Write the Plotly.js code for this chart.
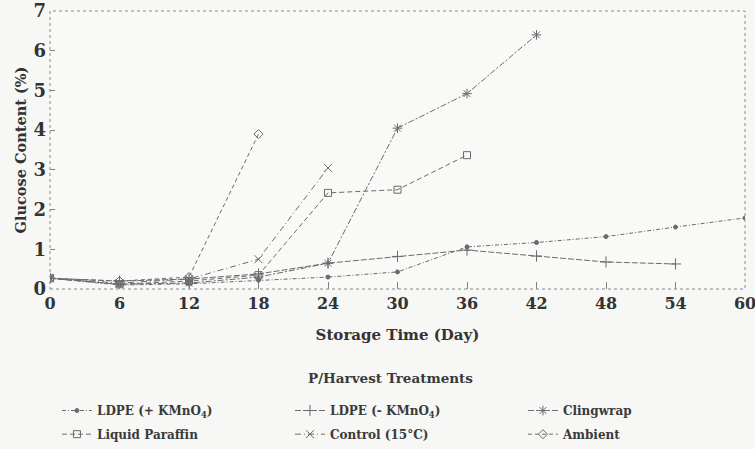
<!DOCTYPE html>
<html>
<head>
<meta charset="utf-8">
<script src="https://cdn.plot.ly/plotly-3.0.1.min.js"></script>
<style>
  html, body { margin: 0; padding: 0; background: #f7f7f5; }
  #chart { width: 755px; height: 449px; }
</style>
</head>
<body>
<div id="chart"></div>
<script>
// Storage days sampled (every 6 days)
const storageDays = [0, 6, 12, 18, 24, 30, 36, 42, 48, 54, 60];
const xTickLabels = ['0', '6', '12', '18', '24', '30', '36', '42', '48', '54', '60'];
const yTickValues = [0, 1, 2, 3, 4, 5, 6, 7];

// Glucose content (%) per post-harvest treatment
const ldpeWithKMnO4    = [0.27, 0.10, 0.13, 0.22, 0.30, 0.43, 1.06, 1.17, 1.32, 1.56, 1.79];
const ldpeWithoutKMnO4 = [0.27, 0.20, 0.25, 0.38, 0.65, 0.82, 0.98, 0.83, 0.68, 0.63];
const clingwrap        = [0.27, 0.12, 0.15, 0.30, 0.65, 4.05, 4.92, 6.40];
const liquidParaffin   = [0.27, 0.12, 0.20, 0.35, 2.42, 2.50, 3.37];
const control15C       = [0.27, 0.15, 0.25, 0.75, 3.05];
const ambient          = [0.27, 0.20, 0.30, 3.90];

const treatmentNames = [
  'LDPE (+ KMnO<sub>4</sub>)', 'LDPE (- KMnO<sub>4</sub>)', 'Clingwrap',
  'Liquid Paraffin', 'Control (15\u00B0C)', 'Ambient'
];

const ink = '#6a6a6a';
const serif = 'DejaVu Serif, Liberation Serif, serif';

function series(values, name, symbol, size, dash, legendId, entryWidth) {
  return {
    type: 'scatter',
    mode: 'lines+markers',
    x: storageDays.slice(0, values.length),
    y: values,
    name: name,
    legend: legendId,
    legendwidth: entryWidth,
    line: { color: ink, width: 1, dash: dash },
    marker: { symbol: symbol, size: size, color: ink, line: { color: ink, width: 1 } }
  };
}

const traces = [
  series(ldpeWithKMnO4,    treatmentNames[0], 'circle',          4, '4px,2px,1px,2px', 'legend',  188),
  series(ldpeWithoutKMnO4, treatmentNames[1], 'cross-thin-open', 8, '6px,2px',          'legend',  188),
  series(clingwrap,        treatmentNames[2], 'asterisk-open',   8, '6px,2px,2px,2px', 'legend',  100),
  series(liquidParaffin,   treatmentNames[3], 'square-open',     7, '5px,3px',          'legend2', 188),
  series(control15C,       treatmentNames[4], 'x-thin-open',     8, '6px,3px,1px,3px', 'legend2', 188),
  series(ambient,          treatmentNames[5], 'diamond-open',    7, '4px,3px',          'legend2', 100)
];

const legendFont = { family: serif, size: 12, color: '#3a3a3a', weight: 'bold' };

const layout = {
  width: 755,
  height: 449,
  margin: { l: 50, r: 10, t: 11, b: 160, autoexpand: false },
  paper_bgcolor: '#f7f7f5',
  plot_bgcolor: '#f9f9f7',
  showlegend: true,
  xaxis: {
    range: [0, 60],
    tickvals: storageDays,
    ticktext: xTickLabels,
    ticks: 'inside',
    ticklen: 7,
    tickcolor: '#808080',
    ticklabelstandoff: 3,
    ticklabeloverflow: 'allow',
    showgrid: false,
    zeroline: false,
    showline: false,
    tickfont: { family: serif, size: 16, color: '#333', weight: 'bold' },
    title: { text: 'Storage Time (Day)', standoff: 17,
             font: { family: serif, size: 15, color: '#333', weight: 'bold' } }
  },
  yaxis: {
    range: [0, 7],
    tickvals: yTickValues,
    ticks: 'inside',
    ticklen: 5,
    tickcolor: '#808080',
    ticklabelstandoff: 3,
    showgrid: false,
    zeroline: false,
    showline: false,
    tickfont: { family: serif, size: 18, color: '#333', weight: 'bold' },
    title: { text: 'Glucose Content (%)', standoff: 3,
             font: { family: serif, size: 14.5, color: '#333', weight: 'bold' } }
  },
  shapes: [{
    type: 'rect', xref: 'paper', yref: 'paper', x0: 0, x1: 1, y0: 0, y1: 1,
    line: { color: '#8a8a8a', width: 1, dash: 'dot' }
  }],
  annotations: [{
    text: 'P/Harvest Treatments', xref: 'paper', yref: 'paper',
    x: 0.49, y: -0.32, xanchor: 'center', yanchor: 'middle', showarrow: false,
    font: { family: serif, size: 13.5, color: '#3a3a3a', weight: 'bold' }
  }],
  legend: {
    orientation: 'h', x: 0.01, y: -0.385, xanchor: 'left', yanchor: 'top',
    bgcolor: 'rgba(0,0,0,0)', font: legendFont, itemwidth: 30, tracegroupgap: 0
  },
  legend2: {
    orientation: 'h', x: 0.01, y: -0.47, xanchor: 'left', yanchor: 'top',
    bgcolor: 'rgba(0,0,0,0)', font: legendFont, itemwidth: 30, tracegroupgap: 0
  }
};

Plotly.newPlot('chart', traces, layout, { displayModeBar: false, staticPlot: true });
</script>
</body>
</html>
